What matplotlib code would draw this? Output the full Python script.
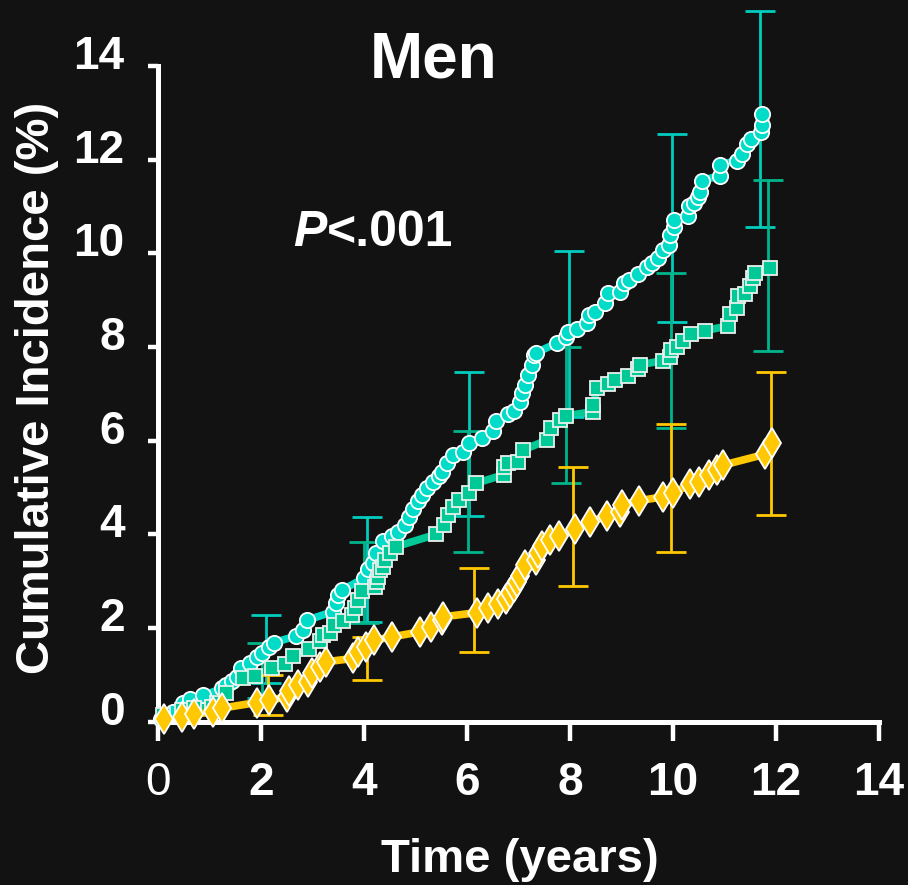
import matplotlib
matplotlib.use("Agg")
import matplotlib.pyplot as plt
import matplotlib.transforms as mtransforms

# ---------------- data ----------------
x_ticks = [0, 2, 4, 6, 8, 10, 12, 14]
y_ticks = [0, 2, 4, 6, 8, 10, 12, 14]

cyan_t = [0.05, 0.30, 0.49, 0.62, 0.88, 1.24, 1.32, 1.43, 1.54, 1.62, 1.79, 1.92, 2.01, 2.16, 2.26,
          2.68, 2.81, 2.90, 3.40, 3.46, 3.50, 3.57, 4.00, 4.08, 4.17, 4.23, 4.37, 4.54, 4.67, 4.79,
          4.87, 4.95, 5.05, 5.12, 5.22, 5.35, 5.45, 5.51, 5.61, 5.73, 5.92, 6.03, 6.29, 6.51, 6.56,
          6.80, 6.91, 7.03, 7.06, 7.13, 7.19, 7.26, 7.31, 7.35, 7.74, 7.93, 7.97, 8.14, 8.33, 8.36,
          8.49, 8.68, 8.74, 8.97, 9.04, 9.15, 9.33, 9.49, 9.59, 9.71, 9.81, 9.93, 9.94, 10.02, 10.02,
          10.30, 10.32, 10.41, 10.48, 10.52, 10.56, 10.91, 10.91, 11.24, 11.35, 11.43, 11.51, 11.70, 11.73, 11.72]
cyan_v = [0.05, 0.20, 0.41, 0.48, 0.56, 0.71, 0.78, 0.87, 0.96, 1.14, 1.26, 1.39, 1.47, 1.60, 1.69,
          1.83, 1.96, 2.17, 2.35, 2.53, 2.70, 2.81, 3.06, 3.27, 3.39, 3.60, 3.86, 3.96, 4.06, 4.19,
          4.37, 4.55, 4.72, 4.85, 4.98, 5.12, 5.25, 5.34, 5.52, 5.69, 5.76, 5.94, 6.05, 6.21, 6.43,
          6.57, 6.64, 6.83, 7.01, 7.19, 7.40, 7.62, 7.83, 7.88, 8.08, 8.21, 8.33, 8.38, 8.51, 8.68,
          8.75, 8.93, 9.15, 9.18, 9.36, 9.44, 9.56, 9.71, 9.80, 9.91, 10.07, 10.18, 10.39, 10.57, 10.71,
          10.80, 11.00, 11.08, 11.21, 11.31, 11.55, 11.66, 11.89, 11.98, 12.13, 12.33, 12.43, 12.60, 12.74, 12.97]

green_t = [0.10, 0.46, 0.69, 1.04, 1.14, 1.32, 1.66, 1.88, 2.21, 2.47, 2.63, 2.94, 3.15, 3.20, 3.34,
           3.42, 3.59, 3.76, 3.83, 3.89, 3.97, 4.21, 4.25, 4.28, 4.31, 4.36, 4.41, 4.50, 4.63, 5.40,
           5.56, 5.64, 5.73, 5.85, 6.03, 6.17, 6.71, 6.72, 6.80, 7.00, 7.09, 7.55, 7.64, 7.81, 7.92,
           8.45, 8.45, 8.53, 8.74, 8.87, 9.13, 9.33, 9.36, 9.81, 9.95, 9.97, 10.07, 10.20, 10.35, 10.63,
           11.07, 11.11, 11.25, 11.27, 11.40, 11.50, 11.56, 11.59, 11.88]
green_v = [0.14, 0.25, 0.29, 0.32, 0.39, 0.62, 0.93, 0.98, 1.14, 1.23, 1.40, 1.55, 1.73, 1.85, 1.90,
           2.06, 2.16, 2.28, 2.42, 2.60, 2.78, 2.87, 2.99, 3.10, 3.24, 3.31, 3.45, 3.60, 3.74, 4.00,
           4.20, 4.41, 4.59, 4.73, 4.89, 5.09, 5.27, 5.44, 5.52, 5.55, 5.80, 6.01, 6.26, 6.44, 6.53,
           6.62, 6.76, 7.12, 7.22, 7.30, 7.37, 7.54, 7.62, 7.71, 7.78, 7.94, 8.01, 8.13, 8.28, 8.35,
           8.45, 8.71, 8.83, 9.08, 9.14, 9.31, 9.47, 9.57, 9.69]

yellow_t = [0.12, 0.47, 0.70, 1.07, 1.24, 1.92, 2.16, 2.50, 2.55, 2.72, 2.92, 3.00, 3.15, 3.26, 3.79,
            3.89, 4.04, 4.20, 4.54, 5.09, 5.31, 5.51, 5.54, 6.20, 6.41, 6.61, 6.76, 6.83, 6.91, 6.98,
            7.03, 7.13, 7.35, 7.38, 7.45, 7.61, 7.79, 8.10, 8.39, 8.72, 8.97, 9.02, 9.35, 9.80, 10.01,
            10.34, 10.51, 10.70, 10.85, 10.98, 11.79, 11.92]
yellow_v = [0.05, 0.11, 0.16, 0.21, 0.29, 0.41, 0.46, 0.53, 0.66, 0.78, 0.85, 1.03, 1.17, 1.28, 1.35,
            1.49, 1.60, 1.74, 1.81, 1.92, 2.03, 2.17, 2.24, 2.33, 2.42, 2.51, 2.61, 2.74, 2.88, 2.99,
            3.11, 3.35, 3.45, 3.61, 3.75, 3.88, 3.96, 4.11, 4.27, 4.39, 4.48, 4.63, 4.72, 4.80, 4.89,
            5.07, 5.12, 5.27, 5.37, 5.48, 5.71, 5.95]

# 95% CI error bars
cyan_err_t = [2.09, 4.05, 6.04, 7.98, 9.99, 11.69]
cyan_err_lo = [0.83, 2.13, 4.40, 6.50, 8.53, 10.57]
cyan_err_hi = [2.28, 4.36, 7.46, 10.04, 12.55, 15.17]

green_err_t = [2.01, 4.00, 6.02, 7.92, 9.97, 11.84]
green_err_lo = [0.50, 2.10, 3.63, 5.10, 6.26, 7.92]
green_err_hi = [1.69, 3.84, 6.21, 8.00, 9.58, 11.56]

yellow_err_t = [2.13, 4.05, 6.14, 8.05, 9.97, 11.91]
yellow_err_lo = [0.15, 0.90, 1.48, 2.89, 3.63, 4.42]
yellow_err_hi = [0.99, 1.81, 3.28, 5.43, 6.36, 7.47]

# ---------------- style ----------------
BG = "#121212"
CYAN = "#00DCC8"
CYAN_ERR = "#00CDBE"
GREEN = "#00C896"
GREEN_ERR = "#00B48C"
YELLOW = "#FFC800"
FONT = "Liberation Sans"

fig = plt.figure(figsize=(9.08, 8.85), dpi=100, facecolor=BG)
ax = fig.add_axes([0.174, 0.1845, 0.794, 0.741])
ax.set_facecolor(BG)


def draw_err(t, lo, hi, color):
    mids = [(a + b) / 2 for a, b in zip(lo, hi)]
    yerr = [[m - a for m, a in zip(mids, lo)], [b - m for m, b in zip(mids, hi)]]
    eb = ax.errorbar(t, mids, yerr=yerr, fmt="none", ecolor=color, elinewidth=2.0,
                     capsize=11, capthick=2.0, zorder=3)
    for art in list(eb.lines[1]) + list(eb.lines[2]):
        art.set_clip_on(False)
    return eb


# curves
ax.plot(cyan_t, cyan_v, color=CYAN, lw=5.5, solid_capstyle="round", zorder=2, clip_on=False)
ax.plot(green_t, green_v, color=GREEN, lw=5.5, solid_capstyle="round", zorder=2, clip_on=False)
ax.plot(yellow_t, yellow_v, color=YELLOW, lw=5.5, solid_capstyle="round", zorder=2, clip_on=False)

draw_err(cyan_err_t, cyan_err_lo, cyan_err_hi, CYAN_ERR)
draw_err(green_err_t, green_err_lo, green_err_hi, GREEN_ERR)
draw_err(yellow_err_t, yellow_err_lo, yellow_err_hi, YELLOW)

ax.plot(cyan_t, cyan_v, ls="none", marker="o", ms=11, mfc=CYAN, mec="white", mew=1.3,
        zorder=4, clip_on=False)
ax.plot(green_t, green_v, ls="none", marker="s", ms=10.5, mfc=GREEN, mec="#E8F0EC", mew=1.3,
        zorder=5, clip_on=False)
ax.plot(yellow_t, yellow_v, ls="none", marker="d", ms=15.5, mfc=YELLOW, mec="white", mew=1.3,
        zorder=6, clip_on=False)

# axes
ax.set_xlim(0, 14)
ax.set_ylim(0, 14)
for s in ["top", "right"]:
    ax.spines[s].set_visible(False)
for s in ["left", "bottom"]:
    ax.spines[s].set_color("white")
    ax.spines[s].set_linewidth(3.6)
ax.set_xticks(x_ticks)
ax.set_yticks(y_ticks)
ax.tick_params(axis="x", direction="out", length=14, width=3.2, color="white", pad=14)
ax.tick_params(axis="y", direction="out", length=7, width=3.2, color="white", pad=17)
ax.set_xticklabels([str(v) for v in x_ticks])
ax.set_yticklabels([str(v) for v in y_ticks])
for i, lab in enumerate(ax.get_xticklabels()):
    lab.set_fontfamily(FONT)
    lab.set_fontsize(33)
    lab.set_color("white")
    lab.set_fontweight("normal" if i == 0 else "bold")
shift_down = mtransforms.ScaledTranslation(0, -3 / 100, fig.dpi_scale_trans)
for lab in ax.get_yticklabels():
    lab.set_fontfamily(FONT)
    lab.set_fontsize(33)
    lab.set_color("white")
    lab.set_fontweight("bold")
    lab.set_verticalalignment("baseline")
    lab.set_transform(lab.get_transform() + shift_down)

# texts
fig.text(434 / 908, 1 - 77 / 885, "Men", ha="center", va="baseline", color="white",
         fontsize=46, fontweight="bold", family=FONT)
fig.text(293 / 908, 1 - 246 / 885, "P", ha="left", va="baseline", color="white",
         fontsize=36, fontweight="bold", fontstyle="italic", family=FONT)
fig.text(327 / 908, 1 - 246 / 885, "<.001", ha="left", va="baseline", color="white",
         fontsize=36, fontweight="bold", family=FONT)
fig.text(520 / 908, 1 - 872 / 885, "Time (years)", ha="center", va="baseline", color="white",
         fontsize=34, fontweight="bold", family=FONT)
fig.text(37 / 908, 1 - 388 / 885, "Cumulative Incidence (%)", ha="center", va="center",
         rotation=90, color="white", fontsize=34, fontweight="bold", family=FONT)

fig.savefig("out.png", dpi=100, facecolor=BG)
